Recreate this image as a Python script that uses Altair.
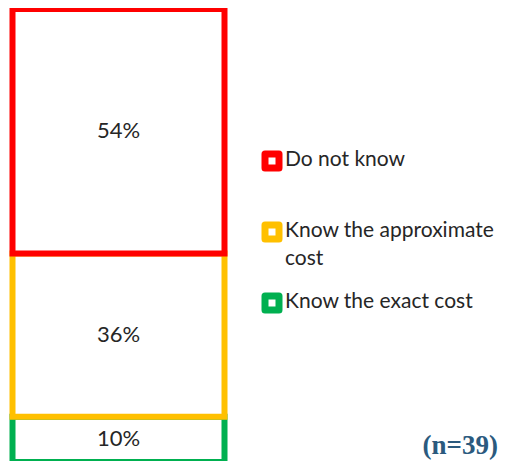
import altair as alt
import pandas as pd

# Data (bottom to top)
categories = ["Know the exact cost", "Know the approximate cost", "Do not know"]
values = [10, 36, 54]
colors = ["#00B050", "#FFC000", "#FF0000"]

# Legend (top to bottom)
legend_labels = ["Do not know", "Know the approximate\ncost", "Know the exact cost"]
legend_keys = ["Do not know", "Know the approximate cost", "Know the exact cost"]
legend_colors = ["#FF0000", "#FFC000", "#00B050"]

note = "(n=39)"

df = pd.DataFrame({
    "group": ["All"] * len(values),
    "category": categories,
    "pct": values,
    "order": list(range(len(values))),
})
df["cum"] = df["pct"].cumsum()
df["mid"] = df["cum"] - df["pct"] / 2
df["label"] = [f"{v}%" for v in values]

leg = pd.DataFrame({"key": legend_keys, "text": legend_labels, "color": legend_colors})

W, H = 491, 452

color_scale = alt.Scale(domain=categories, range=colors)
# the bar's bottom edge sits right at the lower edge of the picture, as in the reference
yscale = alt.Scale(domain=[0, 100], nice=False, zero=True, range=[H + 1, 0])
xscale = alt.Scale(range=[4.5, 216.5], paddingInner=0, paddingOuter=0)

bars = alt.Chart(df).mark_bar(fill="white", strokeWidth=6, strokeJoin="miter").encode(
    x=alt.X("group:N", scale=xscale, axis=None),
    y=alt.Y("pct:Q", stack="zero", scale=yscale, axis=None),
    stroke=alt.Stroke("category:N", scale=color_scale, legend=None),
    order=alt.Order("order:Q"),
)

labels = alt.Chart(df).mark_text(font="Lato", fontSize=22, color="#262626").encode(
    x=alt.X("group:N", scale=xscale, axis=None),
    y=alt.Y("mid:Q", scale=yscale, axis=None),
    text="label:N",
)

leg_scale = alt.Scale(domain=legend_keys, range=[152, 294], padding=0)

leg_marks = alt.Chart(leg).mark_point(
    shape="square", filled=False, fill="white", fillOpacity=1, strokeWidth=7,
    strokeJoin="round", size=196, opacity=1,
).encode(
    x=alt.value(264),
    y=alt.Y("key:N", scale=leg_scale, axis=None),
    stroke=alt.Stroke("color:N", scale=None, legend=None),
)

leg_text = alt.Chart(leg).mark_text(
    font="Lato", fontSize=21, color="#262626", align="left", baseline="top",
    dy=-12, lineHeight=28, lineBreak="\n",
).encode(
    x=alt.value(277),
    y=alt.Y("key:N", scale=leg_scale, axis=None),
    text=alt.Text("text:N"),
)

note_text = alt.Chart(pd.DataFrame({"t": [note]})).mark_text(
    font="Liberation Serif", fontSize=27, fontWeight="bold", color="#2B5A7E",
    align="right", baseline="alphabetic",
).encode(
    x=alt.value(W - 1),
    y=alt.value(H - 7),
    text="t:N",
)

chart = alt.layer(bars, labels, leg_marks, leg_text, note_text).resolve_scale(
    y="independent", x="independent", stroke="independent"
).properties(
    width=W, height=H,
    padding={"left": 0, "top": 1, "right": 0, "bottom": 0},
    autosize=alt.AutoSizeParams(type="none"),
).configure_view(stroke=None)

chart.save("out.html", embed_options={"renderer": "svg", "actions": False})
